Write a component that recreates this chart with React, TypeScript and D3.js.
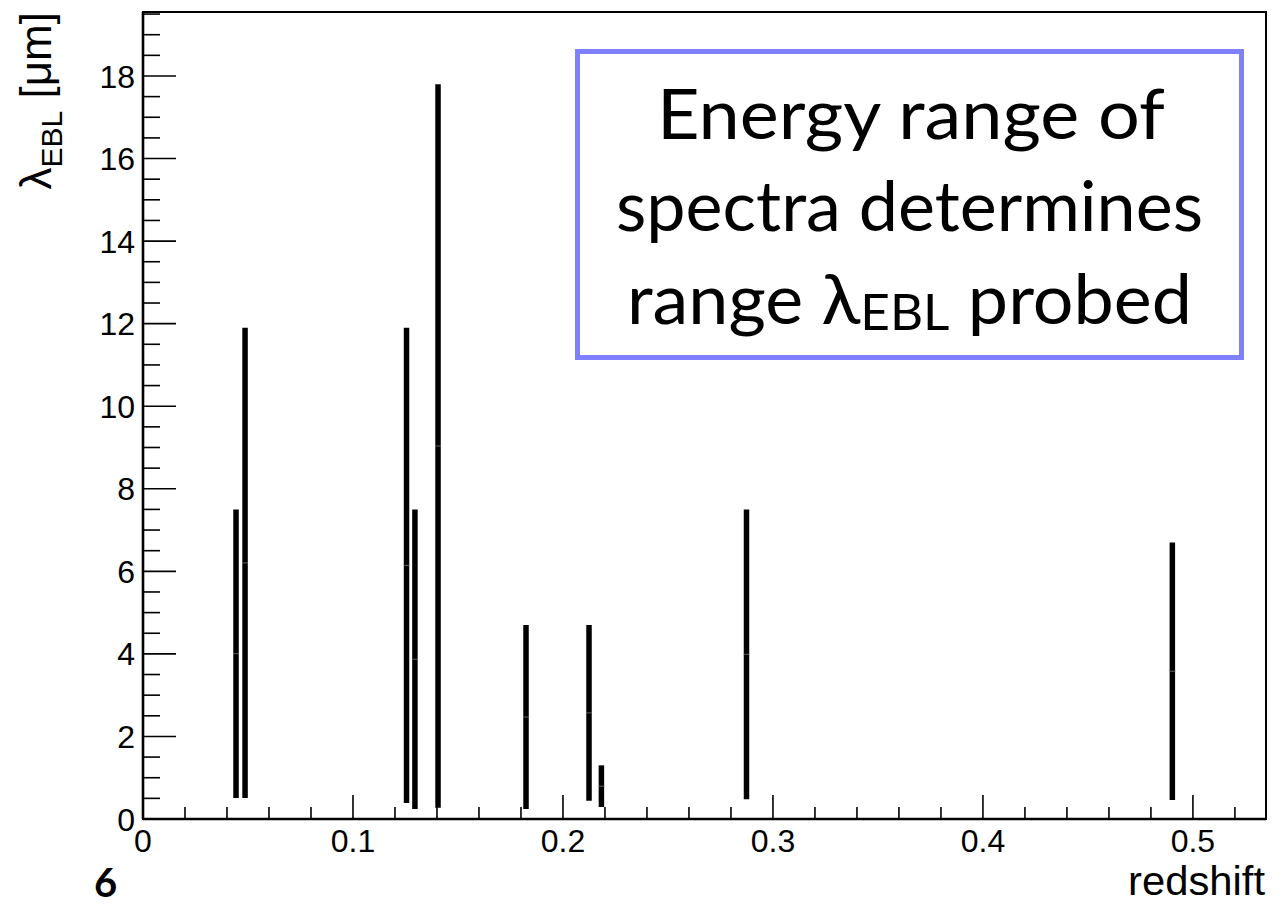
import React, { useEffect, useRef } from 'react';
import * as d3 from 'd3';

// redshift of each source and the lambda_EBL range probed by its spectrum
const redshift = [0.0443, 0.0486, 0.1255, 0.1295, 0.1405, 0.1824, 0.2124, 0.2183, 0.2874, 0.4902];
const lambdaLow = [0.51, 0.51, 0.39, 0.24, 0.27, 0.24, 0.44, 0.29, 0.48, 0.46];
const lambdaHigh = [7.5, 11.9, 11.9, 7.5, 17.8, 4.7, 4.7, 1.3, 7.5, 6.7];

const xTicks = [0, 0.1, 0.2, 0.3, 0.4, 0.5];
const yTicks = [0, 2, 4, 6, 8, 10, 12, 14, 16, 18];

const boxLines = ['Energy range of', 'spectra determines'];

const W = 1285;
const H = 908;

const App = () => {
  const svgRef = useRef<SVGSVGElement>(null);

  useEffect(() => {
    d3.select(svgRef.current).selectAll('*').remove();

    const svg = d3.select(svgRef.current)
      .attr('width', W)
      .attr('height', H);

    svg.append('rect').attr('width', W).attr('height', H).attr('fill', '#fff');

    // frame
    const frame = { left: 143, right: 1266, top: 12, bottom: 819 };

    const x = d3.scaleLinear().domain([0, 0.5348]).range([frame.left, frame.right]);
    const y = d3.scaleLinear().domain([0, 19.55]).range([frame.bottom, frame.top]);

    const axisFont = '"Liberation Sans", Arial, Helvetica, sans-serif';

    // bars (lambda ranges)
    const bars = svg.append('g');
    redshift.forEach((z, i) => {
      bars.append('line')
        .attr('x1', x(z)).attr('x2', x(z))
        .attr('y1', y(lambdaLow[i])).attr('y2', y(lambdaHigh[i]))
        .attr('stroke', '#000')
        .attr('stroke-width', 5.5);
      // centre marker
      const mid = (lambdaLow[i] + lambdaHigh[i]) / 2;
      bars.append('line')
        .attr('x1', x(z) - 3).attr('x2', x(z) + 3)
        .attr('y1', y(mid)).attr('y2', y(mid))
        .attr('stroke', '#777')
        .attr('stroke-width', 0.8);
    });

    // frame box
    svg.append('rect')
      .attr('x', frame.left).attr('y', frame.top)
      .attr('width', frame.right - frame.left)
      .attr('height', frame.bottom - frame.top)
      .attr('fill', 'none')
      .attr('stroke', '#000')
      .attr('stroke-width', 2);
    svg.append('line')
      .attr('x1', frame.left).attr('x2', frame.left)
      .attr('y1', frame.top).attr('y2', frame.bottom)
      .attr('stroke', '#000').attr('stroke-width', 2.6);
    svg.append('line')
      .attr('x1', frame.left).attr('x2', frame.right)
      .attr('y1', frame.bottom).attr('y2', frame.bottom)
      .attr('stroke', '#000').attr('stroke-width', 2.4);

    // x ticks
    const xMinor = d3.range(0, 0.535, 0.02);
    svg.append('g').selectAll('line')
      .data(xMinor)
      .join('line')
      .attr('x1', d => x(d)).attr('x2', d => x(d))
      .attr('y1', frame.bottom)
      .attr('y2', d => (Math.abs(d * 10 - Math.round(d * 10)) < 1e-6 ? frame.bottom - 24 : frame.bottom - 12))
      .attr('stroke', '#000')
      .attr('stroke-width', 1.6);

    svg.append('g').selectAll('text')
      .data(xTicks)
      .join('text')
      .attr('x', d => x(d))
      .attr('y', 852)
      .attr('text-anchor', 'middle')
      .attr('font-family', axisFont)
      .attr('font-size', 32)
      .text(d => (d === 0 ? '0' : d3.format('.1f')(d)));

    // y ticks
    const yMinor = d3.range(0, 19.55, 0.5);
    svg.append('g').selectAll('line')
      .data(yMinor)
      .join('line')
      .attr('x1', frame.left)
      .attr('x2', d => (d % 2 === 0 ? frame.left + 33 : frame.left + 17))
      .attr('y1', d => y(d)).attr('y2', d => y(d))
      .attr('stroke', '#000')
      .attr('stroke-width', 1.6);

    svg.append('g').selectAll('text')
      .data(yTicks)
      .join('text')
      .attr('x', 135)
      .attr('y', d => y(d))
      .attr('dy', '0.36em')
      .attr('text-anchor', 'end')
      .attr('font-family', axisFont)
      .attr('font-size', 32)
      .text(d => String(d));

    // axis titles
    svg.append('text')
      .attr('x', 1265)
      .attr('y', 895)
      .attr('text-anchor', 'end')
      .attr('font-family', axisFont)
      .attr('font-size', 40)
      .attr('textLength', 137)
      .attr('lengthAdjust', 'spacingAndGlyphs')
      .text('redshift');

    const yTitle = svg.append('text')
      .attr('transform', 'translate(51,12) rotate(-90)')
      .attr('text-anchor', 'end')
      .attr('font-family', axisFont)
      .attr('font-size', 44);
    yTitle.append('tspan').text('λ');
    yTitle.append('tspan').attr('font-size', 30).attr('dy', 11).text('EBL');
    yTitle.append('tspan').attr('dy', -11).text(' [μm]');

    // annotation box
    const boxFont = 'Lato, "Open Sans", sans-serif';
    svg.append('rect')
      .attr('x', 577.5).attr('y', 51.5)
      .attr('width', 1241.5 - 577.5)
      .attr('height', 357.5 - 51.5)
      .attr('fill', '#fff')
      .attr('stroke', '#8080ff')
      .attr('stroke-width', 5);

    const lineLeft = [657, 616, 627];
    const lineLen = [508, 587, 565];
    const lineBase = [139, 231, 324];

    boxLines.forEach((t, i) => {
      svg.append('text')
        .attr('x', lineLeft[i])
        .attr('y', lineBase[i])
        .attr('font-family', boxFont)
        .attr('font-size', 70)
        .attr('textLength', lineLen[i])
        .attr('lengthAdjust', 'spacingAndGlyphs')
        .text(t);
    });

    const last = svg.append('text')
      .attr('x', lineLeft[2])
      .attr('y', lineBase[2])
      .attr('font-family', boxFont)
      .attr('font-size', 70)
      .attr('textLength', lineLen[2])
      .attr('lengthAdjust', 'spacingAndGlyphs');
    last.append('tspan').text('range λ');
    last.append('tspan').attr('font-size', 50).attr('dy', 6).text('EBL');
    last.append('tspan').attr('dy', -6).text(' probed');

    // slide number
    svg.append('text')
      .attr('x', 94)
      .attr('y', 897)
      .attr('font-family', boxFont)
      .attr('font-weight', 'bold')
      .attr('font-size', 40)
      .text('6');
  }, []);

  return <svg ref={svgRef} style={{ position: 'absolute', left: 0, top: 0 }}></svg>;
};

export default App;
